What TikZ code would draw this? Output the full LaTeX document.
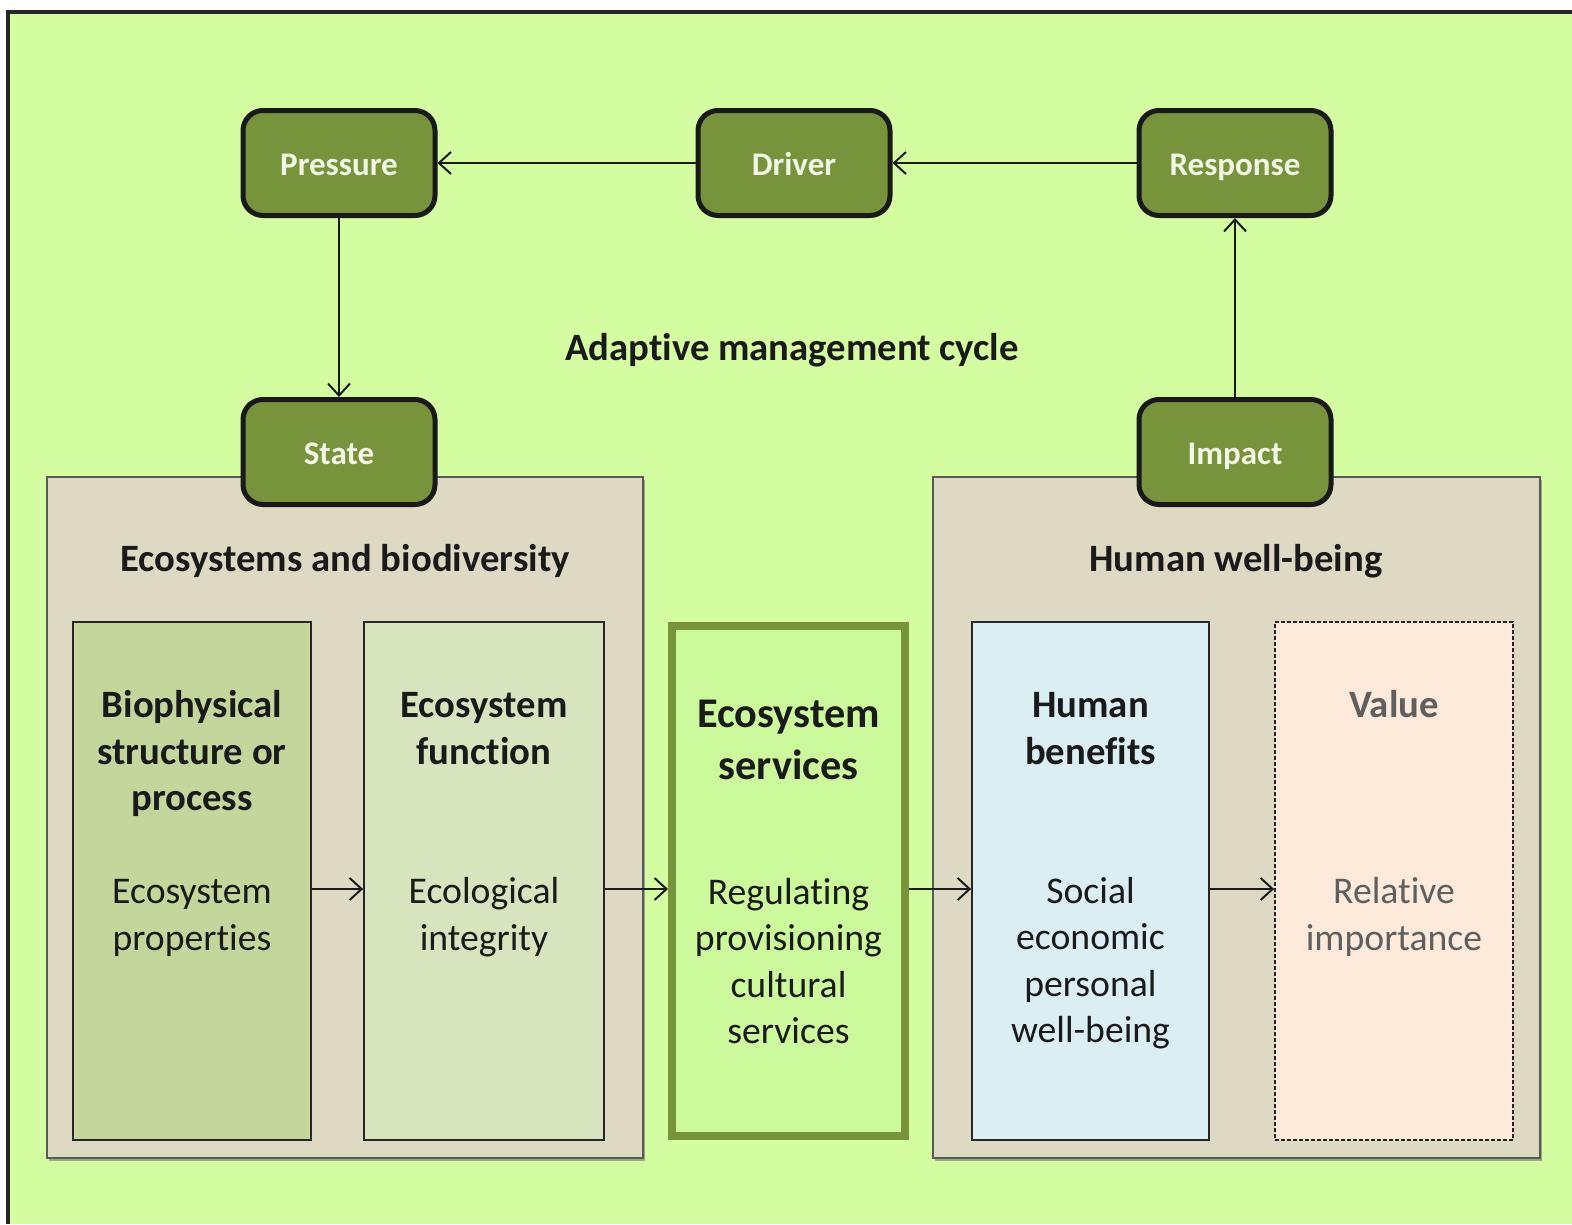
\documentclass[tikz,border=0pt]{standalone}
\usepackage{fontspec}
\setmainfont{Carlito}[Ligatures={NoCommon,NoRare,NoDiscretionary}]
\usetikzlibrary{arrows.meta,shadows}
\definecolor{bggreen}{HTML}{D4FCA0}
\definecolor{tagfill}{HTML}{77933C}
\definecolor{tagtext}{HTML}{F2F7E6}
\definecolor{beige}{HTML}{DDD9C3}
\definecolor{boxA}{HTML}{C3D69B}
\definecolor{boxB}{HTML}{D7E4BD}
\definecolor{boxC}{HTML}{CBF99C}
\definecolor{boxD}{HTML}{DBEEF4}
\definecolor{boxE}{HTML}{FDEADA}
\definecolor{valgray}{HTML}{5F5F5F}
\definecolor{ink}{HTML}{1A1A1A}
\tikzset{
  tag/.style={draw=black!90, line width=5, fill=tagfill, rounded corners=20,
    minimum width=192, minimum height=105, inner sep=0, text=tagtext,
    text height=28, text depth=3,
    font=\fontsize{33}{40}\selectfont\bfseries},
  bigbox/.style={draw=black!65, line width=1.5, fill=beige,
    drop shadow={shadow xshift=2pt, shadow yshift=-3pt, fill=black!55, opacity=0.6},
    minimum height=681, inner sep=0},
  inbox/.style={draw=black!85, line width=1.8, minimum width=238, minimum height=518, inner sep=0},
  head/.style={align=center, inner sep=0, text=ink, font=\fontsize{38.7}{46.5}\selectfont\bfseries},
  body/.style={align=center, inner sep=0, text=ink, font=\fontsize{37.7}{46.5}\selectfont},
  arr/.style={line width=2, draw=ink, -{Straight Barb[length=12, width=22, line width=2]}},
}
\begin{document}
\begin{tikzpicture}[x=1pt,y=-1pt]
\useasboundingbox (0,0) rectangle (1572,1224);
\fill[white] (0,0) rectangle (1572,1224);
\fill[bggreen] (8,12) rectangle (1572,1224);
\draw[line width=4, black!85] (8,1224) -- (8,12) -- (1572,12);

% big boxes
\node[bigbox, minimum width=596] (eco) at (345,817.5) {};
\node[bigbox, minimum width=607] (hum) at (1236.5,817.5) {};
\node[head] (ecot) at (345,561) {Ecosystems and biodiversity};
\node[head] (humt) at (1236,561) {Human well-being};

% tags
\node[tag] (pressure) at (339,163) {Pressure};
\node[tag] (driver) at (794,163) {Driver};
\node[tag] (response) at (1235,163) {Response};
\node[tag] (state) at (339,452) {State};
\node[tag] (impact) at (1235,452) {Impact};

\node[font=\fontsize{38.7}{46}\selectfont\bfseries, text=ink, inner sep=0] (cycle) at (792,350) {Adaptive management cycle};

% inner boxes
\node[inbox, fill=boxA] (b1) at (192,881) {};
\node[inbox, fill=boxB, minimum width=240] (b2) at (484,881) {};
\node[draw=tagfill, line width=8, fill=boxC, minimum width=233, minimum height=510, inner sep=0] (b3) at (788.5,881) {};
\node[inbox, fill=boxD, minimum width=237] (b4) at (1090.5,881) {};
\node[inbox, fill=boxE, dashed, dash pattern=on 4pt off 2pt] (b5) at (1394,881) {};

% texts
\node[head] (b1h) at (192,753.5) {Biophysical\\structure or\\process};
\node[body] (b1b) at (192,918) {Ecosystem\\properties};
\node[head] (b2h) at (484,728.5) {Ecosystem\\function};
\node[body] (b2b) at (484,917) {Ecological\\integrity};
\node[head, font=\fontsize{42.3}{52}\selectfont\bfseries] (b3h) at (788.5,740) {Ecosystem\\services};
\node[body] (b3b) at (788.5,961) {Regulating\\provisioning\\cultural\\services};
\node[head] (b4h) at (1090.5,728.5) {Human\\benefits};
\node[body] (b4b) at (1090.5,963) {Social\\economic\\personal\\well-being};
\node[head, text=valgray] (b5h) at (1394,704) {Value};
\node[body, text=valgray] (b5b) at (1394,917) {Relative\\importance};

% connectors
\draw[arr] (driver) -- (pressure);
\draw[arr] (response) -- (driver);
\draw[arr] (pressure) -- (state);
\draw[arr] (impact) -- (response);
\coordinate (row) at (0,889);
\draw[arr] (b1.east |- row) -- (b2.west |- row);
\draw[arr] (b2.east |- row) -- (b3.west |- row);
\draw[arr] (b3.east |- row) -- (b4.west |- row);
\draw[arr] (b4.east |- row) -- (b5.west |- row);
\end{tikzpicture}
\end{document}
